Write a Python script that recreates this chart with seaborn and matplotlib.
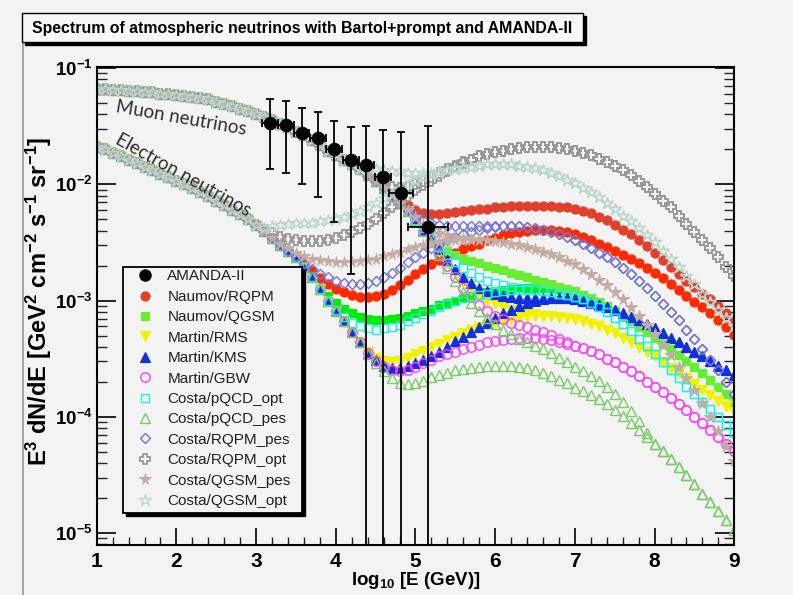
import numpy as np
import pandas as pd
import matplotlib
matplotlib.use("Agg")
import matplotlib.pyplot as plt
import seaborn as sns
from matplotlib.lines import Line2D
from matplotlib.patches import Rectangle
from matplotlib.ticker import FixedLocator, MultipleLocator, LogLocator, FuncFormatter, NullFormatter

# ---------------- data (log10 of E^3 dN/dE) ----------------
LOGE = np.round(np.linspace(1.0, 9.0, 81), 1)   # log10(E/GeV) sampling grid
XTICKS = [1, 2, 3, 4, 5, 6, 7, 8, 9]
YTICKS = [1e-5, 1e-4, 1e-3, 1e-2, 1e-1]

# shared conventional parts
MU_LOW = [-1.18, -1.18, -1.19, -1.19, -1.20, -1.20, -1.21, -1.21, -1.22, -1.22,
          -1.23, -1.24, -1.25, -1.26, -1.27, -1.29, -1.31, -1.33, -1.35, -1.37,
          -1.40, -1.42, -1.45, -1.48, -1.51, -1.55, -1.58, -1.62, -1.66, -1.71,
          -1.75]                                                     # 1.0 .. 4.0
MU_MID = [-1.79, -1.83, -1.87, -1.92, -1.97, -2.03, -2.09, -2.16, -2.23, -2.31]  # 4.1 .. 5.0
E_LOW = [-1.68, -1.70, -1.73, -1.76, -1.79, -1.82, -1.85, -1.88, -1.91, -1.94,
         -1.97, -2.00, -2.03, -2.07, -2.10, -2.14, -2.18, -2.22, -2.26, -2.30,
         -2.35]                                                      # 1.0 .. 3.0
E_MID = [-2.40, -2.46, -2.52, -2.57, -2.63, -2.71, -2.80, -2.90, -3.00, -3.09,
         -3.18, -3.27, -3.36]                                        # 3.1 .. 4.3

# electron-neutrino model tails
PQCDPES_E = [-3.46, -3.54, -3.61, -3.67, -3.71, -3.72, -3.71, -3.69, -3.66, -3.64,
             -3.62, -3.60, -3.59, -3.58, -3.57, -3.56, -3.56, -3.56, -3.56, -3.57,
             -3.58, -3.60, -3.62, -3.65, -3.68, -3.71, -3.75, -3.78, -3.81, -3.85,
             -3.89, -3.94, -3.99, -4.05, -4.11, -4.17, -4.23, -4.29, -4.36, -4.43,
             -4.50, -4.58, -4.66, -4.73, -4.81, -4.89, -4.97]        # 4.4 .. 9.0
GBW_E = [-3.45, -3.52, -3.57, -3.60, -3.61, -3.60, -3.57, -3.54, -3.51, -3.48,
         -3.46, -3.44, -3.42, -3.40, -3.38, -3.36, -3.35, -3.34, -3.33, -3.32,
         -3.32, -3.32, -3.33, -3.34, -3.36, -3.37, -3.39, -3.41, -3.43, -3.46,
         -3.50, -3.53, -3.57, -3.61, -3.65, -3.70, -3.74, -3.79, -3.84, -3.89,
         -3.94, -4.00, -4.05, -4.11, -4.17, -4.23, -4.29]
KMS_E = [-3.45, -3.51, -3.56, -3.58, -3.58, -3.56, -3.54, -3.51, -3.48, -3.44,
         -3.40, -3.35, -3.31, -3.27, -3.23, -3.19, -3.15, -3.11, -3.08, -3.05,
         -3.02, -3.00, -2.99, -2.98, -2.98, -2.98, -2.99, -3.00, -3.02, -3.04,
         -3.06, -3.08, -3.11, -3.14, -3.17, -3.20, -3.24, -3.28, -3.32, -3.36,
         -3.40, -3.44, -3.48, -3.52, -3.56, -3.60, -3.64]
RMS_E = [-3.44, -3.49, -3.52, -3.53, -3.52, -3.49, -3.46, -3.43, -3.40, -3.37,
         -3.34, -3.31, -3.28, -3.25, -3.23, -3.21, -3.19, -3.17, -3.16, -3.15,
         -3.14, -3.13, -3.13, -3.13, -3.14, -3.15, -3.16, -3.18, -3.20, -3.22,
         -3.25, -3.28, -3.32, -3.36, -3.40, -3.44, -3.48, -3.53, -3.58, -3.62,
         -3.67, -3.72, -3.77, -3.81, -3.86, -3.91, -3.96]
PQCDOPT_E = [-3.08, -3.14, -3.19, -3.22, -3.24, -3.25, -3.24, -3.23, -3.21, -3.18,
             -3.15, -3.12, -3.09, -3.06, -3.03, -3.00, -2.98, -2.96, -2.95, -2.94,
             -2.93, -2.92, -2.91, -2.91, -2.91, -2.91, -2.92, -2.93, -2.94, -2.95,
             -2.97, -2.99, -3.02, -3.06, -3.10, -3.15, -3.20, -3.26, -3.33, -3.39,
             -3.46, -3.53, -3.60, -3.67, -3.74, -3.80, -3.87, -3.93, -4.00, -4.07,
             -4.14]                                                  # 4.0 .. 9.0
QGSM_E = [-2.89, -2.96,
          -3.02, -3.07, -3.11, -3.14, -3.16, -3.17, -3.17, -3.16, -3.15, -3.13,
          -3.11, -3.09, -3.07, -3.04, -3.02, -3.00, -2.98, -2.96, -2.95, -2.93,
          -2.92, -2.91, -2.90, -2.89, -2.89, -2.89, -2.89, -2.89, -2.90, -2.91,
          -2.93, -2.95, -2.98, -3.01, -3.05, -3.09, -3.14, -3.18, -3.23, -3.27,
          -3.32, -3.37, -3.42, -3.47, -3.52, -3.57, -3.62, -3.68, -3.74, -3.80,
          -3.87]                                                     # 3.8 .. 9.0
RQPM_E = [-2.69, -2.75, -2.81, -2.86,
          -2.90, -2.93, -2.95, -2.97, -2.97, -2.96, -2.94, -2.91, -2.87, -2.82,
          -2.77, -2.73, -2.69, -2.65, -2.62, -2.59, -2.56, -2.53, -2.51, -2.48,
          -2.46, -2.44, -2.42, -2.41, -2.40, -2.39, -2.39, -2.39, -2.40, -2.41,
          -2.43, -2.45, -2.48, -2.51, -2.54, -2.57, -2.61, -2.64, -2.68, -2.72,
          -2.76, -2.81, -2.86, -2.91, -2.96, -3.01, -3.06, -3.11, -3.17, -3.23,
          -3.30]                                                     # 3.6 .. 9.0
RQPMPES_E = [-2.62, -2.68, -2.73, -2.77, -2.80,
             -2.83, -2.85, -2.86, -2.86, -2.85, -2.83, -2.80, -2.76, -2.72, -2.67,
             -2.63, -2.59, -2.55, -2.51, -2.48, -2.45, -2.43, -2.41, -2.39, -2.38,
             -2.37, -2.36, -2.36, -2.36, -2.37, -2.38, -2.39, -2.41, -2.43, -2.45,
             -2.48, -2.51, -2.55, -2.59, -2.63, -2.67, -2.72, -2.77, -2.83, -2.89,
             -2.96, -3.03, -3.10, -3.17, -3.25, -3.33, -3.42, -3.51, -3.60, -3.70,
             -3.80]                                                  # 3.5 .. 9.0
QGSMPES_E = [-2.51, -2.55, -2.59, -2.62, -2.64, -2.65, -2.66,
             -2.67, -2.67, -2.67, -2.66, -2.65, -2.64, -2.62, -2.60, -2.58, -2.56,
             -2.54, -2.52, -2.51, -2.50, -2.49, -2.48, -2.48, -2.48, -2.48, -2.48,
             -2.49, -2.50, -2.51, -2.52, -2.54, -2.56, -2.58, -2.60, -2.63, -2.66,
             -2.69, -2.73, -2.77, -2.82, -2.87, -2.93, -2.99, -3.06, -3.13, -3.21,
             -3.29, -3.38, -3.47, -3.57, -3.67, -3.77, -3.88, -4.00, -4.12, -4.25,
             -4.38]                                                  # 3.3 .. 9.0
RQPMOPT_E = [-2.39, -2.42, -2.45, -2.47, -2.48, -2.49, -2.49, -2.49, -2.48,
             -2.46, -2.44, -2.41, -2.38, -2.34, -2.30, -2.25, -2.20, -2.15, -2.10,
             -2.05, -2.01, -1.97, -1.93, -1.89, -1.85, -1.82, -1.79, -1.76, -1.74,
             -1.72, -1.71, -1.70, -1.69, -1.68, -1.68, -1.68, -1.68, -1.69, -1.70,
             -1.71, -1.73, -1.75, -1.78, -1.81, -1.84, -1.88, -1.92, -1.97, -2.02,
             -2.08, -2.14, -2.20, -2.27, -2.34, -2.41, -2.48, -2.55, -2.63, -2.71,
             -2.79]                                                  # 3.1 .. 9.0
QGSMOPT_E = [-2.38, -2.36, -2.35, -2.34, -2.33, -2.33, -2.33, -2.32, -2.31,
             -2.30, -2.28, -2.26, -2.23, -2.20, -2.16, -2.12, -2.08, -2.04, -2.00,
             -1.97, -1.94, -1.92, -1.90, -1.88, -1.87, -1.86, -1.85, -1.84, -1.83,
             -1.83, -1.83, -1.83, -1.84, -1.85, -1.86, -1.88, -1.90, -1.93, -1.96,
             -1.99, -2.03, -2.07, -2.11, -2.16, -2.21, -2.27, -2.32, -2.38, -2.44,
             -2.50, -2.57, -2.64, -2.71, -2.79, -2.86, -2.94, -3.01, -3.08, -3.15,
             -3.22]                                                  # 3.1 .. 9.0

# muon-neutrino model tails
PQCDPES_MU = [-2.40, -2.50, -2.61, -2.72, -2.83, -2.93, -3.02, -3.09, -3.15,
              -3.20, -3.25, -3.29, -3.33, -3.36, -3.39, -3.42, -3.45, -3.49, -3.53,
              -3.57, -3.61, -3.65, -3.69, -3.74, -3.80, -3.87, -3.95, -4.04, -4.14,
              -4.23, -4.29, -4.36, -4.43, -4.50, -4.58, -4.66, -4.73, -4.81, -4.89,
              -4.97]                                                 # 5.1 .. 9.0
GBW_MU = [-2.40, -2.49, -2.60, -2.70, -2.80, -2.89, -2.97, -3.04, -3.09,
          -3.13, -3.16, -3.19, -3.21, -3.23, -3.25, -3.27, -3.30, -3.33, -3.36,
          -3.39, -3.41, -3.43, -3.46, -3.50, -3.53, -3.57, -3.61, -3.65, -3.70,
          -3.74, -3.79, -3.84, -3.89, -3.94, -4.00, -4.05, -4.11, -4.17, -4.23,
          -4.29]
RMS_MU = [-2.39, -2.48, -2.58, -2.68, -2.77, -2.85, -2.91, -2.96, -3.00,
          -3.03, -3.06, -3.08, -3.10, -3.11, -3.12, -3.13, -3.13, -3.14, -3.15,
          -3.16, -3.18, -3.20, -3.22, -3.25, -3.28, -3.32, -3.36, -3.40, -3.44,
          -3.48, -3.53, -3.58, -3.62, -3.67, -3.72, -3.77, -3.81, -3.86, -3.91,
          -3.96]
KMS_MU = [-2.39, -2.47, -2.56, -2.65, -2.73, -2.80, -2.85, -2.89, -2.92,
          -2.94, -2.96, -2.97, -2.98, -2.98, -2.98, -2.98, -2.98, -2.98, -2.98,
          -2.99, -3.00, -3.02, -3.04, -3.06, -3.08, -3.11, -3.14, -3.17, -3.20,
          -3.24, -3.28, -3.32, -3.36, -3.40, -3.44, -3.48, -3.52, -3.56, -3.60,
          -3.64]
PQCDOPT_MU = [-2.38, -2.46, -2.54, -2.61, -2.67, -2.72, -2.76, -2.80, -2.83,
              -2.85, -2.87, -2.88, -2.89, -2.90, -2.91, -2.92, -2.93, -2.94, -2.95,
              -2.97, -2.99, -3.02, -3.06, -3.10, -3.15, -3.20, -3.26, -3.33, -3.39,
              -3.46, -3.53, -3.60, -3.67, -3.74, -3.80, -3.87, -3.93, -4.00, -4.07,
              -4.14]
QGSM_MU = [-2.39, -2.46, -2.52, -2.57, -2.61, -2.64, -2.66, -2.68, -2.70,
           -2.72, -2.74, -2.76, -2.78, -2.80, -2.82, -2.84, -2.86, -2.88, -2.90,
           -2.92, -2.95, -2.98, -3.01, -3.05, -3.09, -3.14, -3.18, -3.23, -3.27,
           -3.32, -3.37, -3.42, -3.47, -3.52, -3.57, -3.62, -3.68, -3.74, -3.80,
           -3.87]
QGSMPES_MU = [-2.22,
              -2.28, -2.34, -2.39, -2.42, -2.44, -2.45, -2.46, -2.47, -2.47, -2.48,
              -2.49, -2.50, -2.51, -2.52, -2.54, -2.56, -2.58, -2.60, -2.63, -2.66,
              -2.69, -2.73, -2.77, -2.82, -2.87, -2.93, -2.99, -3.06, -3.13, -3.21,
              -3.29, -3.38, -3.47, -3.57, -3.67, -3.77, -3.88, -4.00, -4.12, -4.25,
              -4.38]                                                 # 4.9 .. 9.0
RQPMPES_MU = [-2.22,
              -2.27, -2.31, -2.33, -2.35, -2.36, -2.36, -2.36, -2.36, -2.36, -2.36,
              -2.36, -2.36, -2.36, -2.36, -2.37, -2.38, -2.39, -2.41, -2.43, -2.45,
              -2.48, -2.51, -2.55, -2.59, -2.63, -2.67, -2.72, -2.77, -2.83, -2.89,
              -2.96, -3.03, -3.10, -3.17, -3.25, -3.33, -3.42, -3.51, -3.60, -3.70,
              -3.80]                                                 # 4.9 .. 9.0
RQPM_MU = [-2.08, -2.13, -2.18,
           -2.22, -2.25, -2.26, -2.26, -2.25, -2.24, -2.23, -2.22, -2.21, -2.21,
           -2.20, -2.20, -2.19, -2.19, -2.19, -2.19, -2.19, -2.19, -2.20, -2.20,
           -2.21, -2.23, -2.25, -2.28, -2.31, -2.35, -2.39, -2.43, -2.48, -2.53,
           -2.59, -2.65, -2.71, -2.77, -2.83, -2.88, -2.94, -2.99, -3.05, -3.11,
           -3.17]                                                    # 4.7 .. 9.0
RQPMOPT_MU = [-1.96, -2.00, -2.02, -2.03, -2.02,
              -2.00, -1.97, -1.94, -1.90, -1.87, -1.84, -1.81, -1.79, -1.76, -1.74,
              -1.72, -1.71, -1.70, -1.69, -1.68, -1.68, -1.68, -1.68, -1.69, -1.70,
              -1.71, -1.73, -1.75, -1.78, -1.81, -1.84, -1.88, -1.92, -1.97, -2.02,
              -2.08, -2.14, -2.20, -2.27, -2.34, -2.41, -2.48, -2.55, -2.63, -2.71,
              -2.79]                                                 # 4.5 .. 9.0
QGSMOPT_MU = [-1.86, -1.87, -1.88, -1.89, -1.89, -1.90,
              -1.90, -1.90, -1.90, -1.89, -1.88, -1.87, -1.86, -1.85, -1.84, -1.83,
              -1.83, -1.83, -1.83, -1.84, -1.85, -1.86, -1.88, -1.90, -1.93, -1.96,
              -1.99, -2.03, -2.07, -2.11, -2.16, -2.21, -2.27, -2.32, -2.38, -2.44,
              -2.50, -2.57, -2.64, -2.71, -2.79, -2.86, -2.94, -3.01, -3.08, -3.15,
              -3.22]                                                 # 4.4 .. 9.0

# AMANDA-II unfolded points
AMANDA_LOGE = [3.18, 3.38, 3.57, 3.78, 3.98, 4.19, 4.38, 4.59, 4.82, 5.16]
AMANDA_FLUX = [0.0339, 0.0321, 0.0274, 0.0251, 0.0200, 0.0162, 0.0147, 0.0116, 0.00835, 0.00432]
AMANDA_HI = [0.054, 0.052, 0.0453, 0.0421, 0.0348, 0.0309, 0.0317, 0.0293, 0.0283, 0.0317]
AMANDA_LO = [0.0135, 0.0126, 0.0100, 0.0078, 0.0047, 0.0017, 1e-9, 1e-9, 1e-9, 1e-9]
AMANDA_XERR = [0.10, 0.10, 0.10, 0.10, 0.10, 0.10, 0.10, 0.10, 0.15, 0.25]

LABELS = ["AMANDA-II", "Naumov/RQPM", "Naumov/QGSM", "Martin/RMS", "Martin/KMS",
          "Martin/GBW", "Costa/pQCD_opt", "Costa/pQCD_pes", "Costa/RQPM_pes",
          "Costa/RQPM_opt", "Costa/QGSM_pes", "Costa/QGSM_opt"]


def full(*parts):
    arr = np.concatenate([np.asarray(p, float) for p in parts])
    if arr.size != LOGE.size:
        raise ValueError(f"series length {arr.size} != {LOGE.size}")
    return arr


SERIES = {
    "Naumov/RQPM": (full(E_LOW, E_MID[:5], RQPM_E), full(MU_LOW, MU_MID[:6], RQPM_MU)),
    "Naumov/QGSM": (full(E_LOW, E_MID[:7], QGSM_E), full(MU_LOW, MU_MID, QGSM_MU)),
    "Martin/RMS": (full(E_LOW, E_MID, RMS_E), full(MU_LOW, MU_MID, RMS_MU)),
    "Martin/KMS": (full(E_LOW, E_MID, KMS_E), full(MU_LOW, MU_MID, KMS_MU)),
    "Martin/GBW": (full(E_LOW, E_MID, GBW_E), full(MU_LOW, MU_MID, GBW_MU)),
    "Costa/pQCD_opt": (full(E_LOW, E_MID[:9], PQCDOPT_E), full(MU_LOW, MU_MID, PQCDOPT_MU)),
    "Costa/pQCD_pes": (full(E_LOW, E_MID, PQCDPES_E), full(MU_LOW, MU_MID, PQCDPES_MU)),
    "Costa/RQPM_pes": (full(E_LOW, E_MID[:4], RQPMPES_E), full(MU_LOW, MU_MID[:8], RQPMPES_MU)),
    "Costa/RQPM_opt": (full(E_LOW, RQPMOPT_E), full(MU_LOW, MU_MID[:4], RQPMOPT_MU)),
    "Costa/QGSM_pes": (full(E_LOW, E_MID[:2], QGSMPES_E), full(MU_LOW, MU_MID[:8], QGSMPES_MU)),
    "Costa/QGSM_opt": (full(E_LOW, QGSMOPT_E), full(MU_LOW, MU_MID[:3], QGSMOPT_MU)),
}

# style: (electron colour, muon colour, marker, filled, size, edge width)
STYLE = {
    "Naumov/RQPM": ("#ff2a00", "#e0402c", "o", True, 6.6, 0.8),
    "Naumov/QGSM": ("#00ee00", "#66ee33", "s", True, 6.2, 0.8),
    "Martin/RMS": ("#f2f200", "#f2f200", "v", True, 7.0, 0.8),
    "Martin/KMS": ("#1030e0", "#1030e0", "^", True, 6.8, 0.8),
    "Martin/GBW": ("#ff40ff", "#ff40ff", "o", False, 6.8, 1.0),
    "Costa/pQCD_opt": ("#22eeee", "#22eeee", "s", False, 6.4, 1.0),
    "Costa/pQCD_pes": ("#77cc66", "#77cc66", "^", False, 7.4, 1.0),
    "Costa/RQPM_pes": ("#7272d8", "#7272d8", "D", False, 5.6, 1.0),
    "Costa/RQPM_opt": ("#999999", "#999999", "P", False, 7.8, 1.3),
    "Costa/QGSM_pes": ("#c4aca4", "#c4aca4", "*", True, 8.4, 0.6),
    "Costa/QGSM_opt": ("#bcd6ce", "#bcd6ce", "*", False, 9.2, 1.0),
}

# ---------------- figure ----------------
sns.set_theme(style="white")
plt.rcParams["font.family"] = ["Liberation Sans", "DejaVu Sans"]
plt.rcParams["mathtext.fontset"] = "custom"
plt.rcParams["mathtext.rm"] = "Liberation Sans"
plt.rcParams["mathtext.bf"] = "Liberation Sans:bold"
plt.rcParams["mathtext.it"] = "Liberation Sans:italic"
BG = "#f3f3f3"
W, H = 793, 595

fig = plt.figure(figsize=(W / 100, H / 100), dpi=100, facecolor=BG)
AX_L, AX_R, AX_T, AX_B = 96.7, 734.3, 66.7, 545.0
ax = fig.add_axes([AX_L / W, 1 - AX_B / H, (AX_R - AX_L) / W, (AX_B - AX_T) / H])
ax.set_facecolor(BG)
ax.set_yscale("log")
ax.set_xlim(1, 9)
ax.set_ylim(7.9e-6, 0.1025)

z = 2.0
for name, (e_vals, mu_vals) in SERIES.items():
    ce, cm, mk, filled, ms, mew = STYLE[name]
    for vals, col in ((e_vals, ce), (mu_vals, cm)):
        df = pd.DataFrame({"logE": LOGE, "flux": 10.0 ** vals})
        sns.lineplot(data=df, x="logE", y="flux", ax=ax, estimator=None, sort=False,
                     legend=False, color=col, linestyle="none", marker=mk,
                     markersize=ms, markerfacecolor=col if filled else "none",
                     markeredgecolor=col, markeredgewidth=mew, zorder=z)
        z += 0.01

# AMANDA-II
ay = np.array(AMANDA_FLUX)
ax.errorbar(AMANDA_LOGE, ay, yerr=[ay - np.array(AMANDA_LO), np.array(AMANDA_HI) - ay],
            xerr=AMANDA_XERR, fmt="none", ecolor="black", elinewidth=1.3,
            capsize=3.2, capthick=1.3, zorder=10)
sns.scatterplot(x=AMANDA_LOGE, y=AMANDA_FLUX, ax=ax, color="black", s=85,
                edgecolor="black", linewidth=0.5, zorder=11, legend=False)

# axes styling (ROOT look)
for sp in ax.spines.values():
    sp.set_color("black")
    sp.set_linewidth(1.5)
ax.xaxis.set_major_locator(FixedLocator(XTICKS))
ax.xaxis.set_minor_locator(MultipleLocator(0.2))
ax.yaxis.set_major_locator(FixedLocator(YTICKS))
ax.yaxis.set_minor_locator(LogLocator(base=10, subs=np.arange(2, 10)))
ax.yaxis.set_minor_formatter(NullFormatter())
ax.xaxis.set_major_formatter(FuncFormatter(lambda v, p: r"$\mathbf{%d}$" % round(v)))
ax.yaxis.set_major_formatter(FuncFormatter(lambda v, p: r"$\mathbf{10^{%d}}$" % round(np.log10(v))))
ax.tick_params(axis="x", which="major", direction="in", length=12, width=1.2,
               bottom=True, top=False, labelsize=15, pad=5, colors="black")
ax.tick_params(axis="x", which="minor", direction="in", length=6, width=1.0,
               bottom=True, top=False)
ax.tick_params(axis="y", which="major", direction="in", length=14, width=1.2,
               left=True, right=True, labelsize=13.5, pad=3, colors="black")
ax.tick_params(axis="y", which="minor", direction="in", length=7, width=1.0,
               left=True, right=True)

ax.set_xlabel(r"$\mathbf{log_{10}\ [E\ (GeV)]}$", fontsize=13.5, color="black")
ax.xaxis.set_label_coords(0.5, -0.053)
ax.set_ylabel(r"$\mathbf{E^{3}\ dN/dE\ [GeV^{2}\ cm^{-2}\ s^{-1}\ sr^{-1}]}$",
              fontsize=17, color="black")
ax.yaxis.set_label_coords(-0.0665, 0.51)

# curve annotations
fig.text(181 / W, 1 - 118 / H, "Muon neutrinos", rotation=-10, ha="center", va="center",
         fontsize=13.5, color="#303030", family=["Lato", "DejaVu Sans"])
fig.text(183 / W, 1 - 175 / H, "Electron neutrinos", rotation=-29, ha="center", va="center",
         fontsize=13.5, color="#303030", family=["Lato", "DejaVu Sans"])

# legend with ROOT-like box and shadow
def ax_xy(px, py):
    return ((px - AX_L) / (AX_R - AX_L), (AX_B - py) / (AX_B - AX_T))

LB_L, LB_T, LB_R, LB_B = 123, 267, 302, 513
x0, y0 = ax_xy(LB_L, LB_B)
x1, y1 = ax_xy(LB_R, LB_T)
ax.add_patch(Rectangle((x0 + 3 / (AX_R - AX_L), y0 - 3 / (AX_B - AX_T)), x1 - x0, y1 - y0,
                       transform=ax.transAxes, facecolor="black", edgecolor="black",
                       zorder=30, clip_on=False))
ax.add_patch(Rectangle((x0, y0), x1 - x0, y1 - y0, transform=ax.transAxes,
                       facecolor=BG, edgecolor="black", linewidth=1.3, zorder=31,
                       clip_on=False))
handles = [Line2D([], [], ls="none", marker="o", ms=8, color="black", mec="black")]
for name in LABELS[1:]:
    ce, cm, mk, filled, ms, mew = STYLE[name]
    col = cm
    handles.append(Line2D([], [], ls="none", marker=mk, ms=ms, color=col,
                          mfc=col if filled else "none", mec=col, mew=mew))
lx, ly = ax_xy(130, 269.5)
leg = ax.legend(handles, LABELS, loc="upper left", bbox_to_anchor=(lx, ly),
                bbox_transform=ax.transAxes, frameon=False, fontsize=11,
                handlelength=2.0, handletextpad=0.45, labelspacing=0.42,
                borderpad=0, borderaxespad=0, numpoints=1)
leg.set_zorder(32)
for t in leg.get_texts():
    t.set_color("#202020")

# title box (TPaveText with shadow)
TB_L, TB_T, TB_R, TB_B = 22, 13, 583, 42
fig.patches.append(Rectangle(((TB_L + 3) / W, 1 - (TB_B + 3) / H), (TB_R - TB_L) / W,
                             (TB_B - TB_T) / H, transform=fig.transFigure,
                             facecolor="black", edgecolor="black", zorder=1))
fig.patches.append(Rectangle((TB_L / W, 1 - TB_B / H), (TB_R - TB_L) / W,
                             (TB_B - TB_T) / H, transform=fig.transFigure,
                             facecolor="#f8f8f8", edgecolor="black", linewidth=1.0, zorder=2))
fig.text((TB_L + TB_R) / 2 / W, 1 - 28 / H,
         "Spectrum of atmospheric neutrinos with Bartol+prompt and AMANDA-II",
         ha="center", va="center", fontsize=11.4, fontweight="bold", color="black", zorder=3)

# canvas left border
fig.add_artist(Line2D([22.7 / W, 22.7 / W], [0, 1 - TB_B / H], transform=fig.transFigure,
                      color="#9a9a9a", lw=1.2))

fig.savefig("out.png", dpi=100, facecolor=BG)
